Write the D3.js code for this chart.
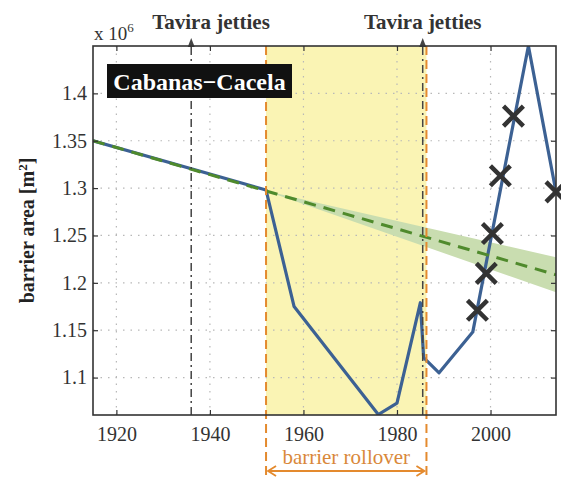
<!DOCTYPE html>
<html>
<head>
<meta charset="utf-8">
<script src="https://cdn.jsdelivr.net/npm/d3@7"></script>
<style>
  body { margin: 0; background: #fff; }
  svg { display: block; }
</style>
</head>
<body>
<svg id="chart" width="561" height="478" font-family="Liberation Serif"></svg>
<script>
// barrier area (x 10^6 m^2)
const areaYears = [1915, 1952, 1958, 1976, 1980, 1985, 1985.7, 1989, 1996.2, 2008.1, 2014];
const areaVals  = [1.35, 1.298, 1.175, 1.061, 1.073, 1.179, 1.121, 1.105, 1.148, 1.45, 1.296];

const crossYears = [1997.2, 1999.1, 2000.4, 2002.1, 2004.9, 2014];
const crossVals  = [1.171, 1.21, 1.252, 1.313, 1.376, 1.296];

// linear trend + uncertainty band
const trendYears = [1915, 1952, 2014];
const trendVals  = [1.35, 1.297, 1.2085];
const trendHalf  = [0, 0, 0.0185];

const jettyYears = [1936, 1985.5];
const rollover = [1952, 1986.3];

const xTicks = [1920, 1940, 1960, 1980, 2000];
const yTicks = [1.1, 1.15, 1.2, 1.25, 1.3, 1.35, 1.4];

const FONT = "Liberation Serif";

const svg = d3.select("#chart");
const m = { left: 93, right: 556, top: 46, bottom: 415 };

const x = d3.scaleLinear().domain([1915, 2014]).range([m.left, m.right]);
const y = d3.scaleLinear().domain([1.0605, 1.45]).range([m.bottom, m.top]);

svg.append("defs").append("clipPath").attr("id", "clip")
  .append("rect").attr("x", m.left).attr("y", m.top)
  .attr("width", m.right - m.left).attr("height", m.bottom - m.top);

// rollover shading
svg.append("rect")
  .attr("x", x(rollover[0])).attr("y", m.top)
  .attr("width", x(rollover[1]) - x(rollover[0])).attr("height", m.bottom - m.top)
  .attr("fill", "#faf4b4");

// grid
const grid = svg.append("g").attr("stroke", "#b8b8b8").attr("stroke-dasharray", "1.5,6").attr("stroke-width", 1.2);
grid.selectAll(".gx").data(xTicks).enter().append("line")
  .attr("x1", d => x(d)).attr("x2", d => x(d)).attr("y1", m.top).attr("y2", m.bottom);
grid.selectAll(".gy").data(yTicks).enter().append("line")
  .attr("y1", d => y(d)).attr("y2", d => y(d)).attr("x1", m.left).attr("x2", m.right);

const plot = svg.append("g").attr("clip-path", "url(#clip)");

// trend band
const bandData = trendYears.map((t, i) => ({ t, v: trendVals[i], h: trendHalf[i] }));
plot.append("path").datum(bandData)
  .attr("d", d3.area().x(d => x(d.t)).y0(d => y(d.v - d.h)).y1(d => y(d.v + d.h)))
  .attr("fill", "#c9ddb0");

// barrier area line
const areaData = areaYears.map((t, i) => ({ t, v: areaVals[i] }));
plot.append("path").datum(areaData)
  .attr("d", d3.line().x(d => x(d.t)).y(d => y(d.v)))
  .attr("fill", "none").attr("stroke", "#3c6193").attr("stroke-width", 3.2)
  .attr("stroke-linejoin", "round");

// trend dashed
plot.append("path").datum(bandData)
  .attr("d", d3.line().x(d => x(d.t)).y(d => y(d.v)))
  .attr("fill", "none").attr("stroke", "#4f8a2c").attr("stroke-width", 3)
  .attr("stroke-dasharray", "12,8");

// orange rollover bounds
svg.selectAll(".roll").data(rollover).enter().append("line")
  .attr("x1", d => x(d)).attr("x2", d => x(d)).attr("y1", m.top).attr("y2", 476)
  .attr("stroke", "#e48a2e").attr("stroke-width", 2).attr("stroke-dasharray", "9,5");

// jetties lines with arrows
svg.selectAll(".jet").data(jettyYears).enter().append("line")
  .attr("x1", d => x(d)).attr("x2", d => x(d)).attr("y1", m.bottom).attr("y2", 46)
  .attr("stroke", "#444").attr("stroke-width", 1.5).attr("stroke-dasharray", "8,4,2,4");
svg.selectAll(".jetArrow").data(jettyYears).enter().append("path")
  .attr("d", d => `M${x(d)},38 L${x(d) - 3.5},47 L${x(d) + 3.5},47 Z`)
  .attr("fill", "#444");

// crosses
const cross = d3.symbol().type(d3.symbolX).size(260);
svg.selectAll(".cross").data(crossYears).enter().append("path")
  .attr("d", cross)
  .attr("transform", (d, i) => `translate(${x(d)},${y(crossVals[i])})`)
  .attr("fill", "none").attr("stroke", "#333").attr("stroke-width", 4.5);

// axes (MATLAB-style inward ticks on all sides)
const styleAxis = g => {
  g.attr("font-family", FONT).attr("font-size", 20);
  g.select(".domain").remove();
  g.selectAll(".tick line").attr("stroke", "#333").attr("stroke-width", 1.2);
  g.selectAll(".tick text").attr("fill", "#333").attr("font-family", FONT).attr("font-size", 20);
};
svg.append("g").attr("transform", `translate(0,${m.bottom})`)
  .call(d3.axisBottom(x).tickValues(xTicks).tickFormat(d3.format("d")).tickSize(-5).tickPadding(12))
  .call(styleAxis);
svg.append("g").attr("transform", `translate(0,${m.top})`)
  .call(d3.axisTop(x).tickValues(xTicks).tickFormat("").tickSize(-5))
  .call(styleAxis);
svg.append("g").attr("transform", `translate(${m.left},0)`)
  .call(d3.axisLeft(y).tickValues(yTicks).tickFormat(d => String(+d.toFixed(2))).tickSize(-5).tickPadding(6))
  .call(styleAxis);
svg.append("g").attr("transform", `translate(${m.right},0)`)
  .call(d3.axisRight(y).tickValues(yTicks).tickFormat("").tickSize(-5))
  .call(styleAxis);

svg.append("rect").attr("x", m.left).attr("y", m.top)
  .attr("width", m.right - m.left).attr("height", m.bottom - m.top)
  .attr("fill", "none").attr("stroke", "#333").attr("stroke-width", 1.6);

const label = (xp, yp, txt) => svg.append("text").attr("x", xp).attr("y", yp)
  .attr("font-family", FONT).text(txt);

// y label
const yl = svg.append("text")
  .attr("transform", `translate(34,${(m.top + m.bottom) / 2}) rotate(-90)`)
  .attr("text-anchor", "middle").attr("font-family", FONT)
  .attr("font-weight", "bold").attr("font-size", 20).attr("fill", "#222");
yl.append("tspan").text("barrier area [m");
yl.append("tspan").attr("dy", -7).attr("font-size", 13).text("2");
yl.append("tspan").attr("dy", 7).text("]");

// exponent
const ex = svg.append("text").attr("x", 94).attr("y", 40)
  .attr("font-family", FONT).attr("font-size", 19).attr("fill", "#333");
ex.append("tspan").text("x 10");
ex.append("tspan").attr("dy", -8).attr("font-size", 13).text("6");

// jetties labels
label(211, 29, "Tavira jetties").attr("text-anchor", "middle")
  .attr("font-weight", "bold").attr("font-size", 21).attr("fill", "#333");
label(x(jettyYears[1]), 29, "Tavira jetties").attr("text-anchor", "middle")
  .attr("font-weight", "bold").attr("font-size", 21).attr("fill", "#333");

// site label
svg.append("rect").attr("x", 107).attr("y", 64).attr("width", 185).attr("height", 34).attr("fill", "#111");
label(199.5, 90, "Cabanas\u2212Cacela").attr("text-anchor", "middle")
  .attr("font-weight", "bold").attr("font-size", 24).attr("fill", "#fff");

// rollover label + arrow
const rx0 = x(rollover[0]), rx1 = x(rollover[1]);
label((rx0 + rx1) / 2, 464, "barrier rollover").attr("text-anchor", "middle")
  .attr("font-size", 21).attr("fill", "#d9883a");
svg.append("path")
  .attr("d", `M${rx0 + 2},471 L${rx1 - 2},471 M${rx0 + 10},466 L${rx0 + 2},471 L${rx0 + 10},476 M${rx1 - 10},466 L${rx1 - 2},471 L${rx1 - 10},476`)
  .attr("fill", "none").attr("stroke", "#e48a2e").attr("stroke-width", 1.8);
</script>
</body>
</html>
